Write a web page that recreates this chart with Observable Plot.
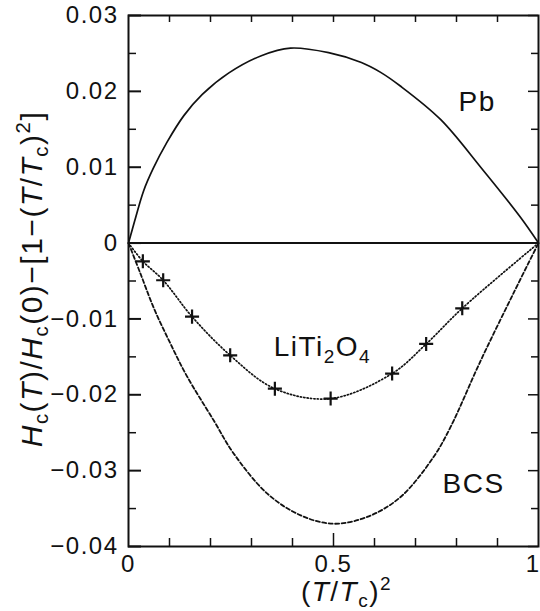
<!DOCTYPE html>
<html><head><meta charset="utf-8">
<script src="https://cdn.jsdelivr.net/npm/d3@7"></script>
<script src="https://cdn.jsdelivr.net/npm/@observablehq/plot@0.6"></script>
<style>html,body{margin:0;padding:0;background:#fff} svg{display:block}</style>
</head><body><div id="chart"></div>
<script>
// Pb (solid)
const pbX = [0, 0.015, 0.037, 0.06, 0.094, 0.135, 0.18, 0.244, 0.324, 0.395, 0.488, 0.568, 0.615, 0.663, 0.761, 0.859, 0.956, 1];
const pbY = [0, 0.0029, 0.0069, 0.0098, 0.0133, 0.0168, 0.0196, 0.0224, 0.0247, 0.0257, 0.0251, 0.0238, 0.0225, 0.0207, 0.0163, 0.0100, 0.0034, 0];
// BCS (dashed)
const bcsX = [0, 0.029, 0.062, 0.1, 0.142, 0.208, 0.256, 0.338, 0.42, 0.5, 0.582, 0.663, 0.744, 0.785, 0.859, 0.94, 1];
const bcsY = [0, -0.0040, -0.0086, -0.0130, -0.0175, -0.0234, -0.0277, -0.0330, -0.0359, -0.0370, -0.0361, -0.0335, -0.0282, -0.0243, -0.0155, -0.0065, 0];
// LiTi2O4 measured points (+) and dotted guide
const liX = [0.035, 0.0846, 0.155, 0.248, 0.357, 0.493, 0.643, 0.726, 0.814];
const liY = [-0.0024, -0.0049, -0.0097, -0.0148, -0.0192, -0.0205, -0.0172, -0.0133, -0.0086];
const liLineX = [0, ...liX, 1];
const liLineY = [0, ...liY, 0];
// ticks
const yMajor = [-0.04, -0.03, -0.02, -0.01, 0, 0.01, 0.02, 0.03];
const yMinor = [-0.035, -0.025, -0.015, -0.005, 0.005, 0.015, 0.025];
const xMajor = [0, 0.5];
const xEnd = [1];
const xMinor = [0.1, 0.2, 0.3, 0.4, 0.6, 0.7, 0.8, 0.9];
// curve labels
const labelNames = ["Pb", "LiTi2O4", "BCS"];
const labelX = [0.805, 0.354, 0.766];
const labelY = [0.0174, -0.0149, -0.0330];
const xTitle = "(T/Tc)2";
const yTitle = "Hc(T)/Hc(0)−[1−(T/Tc)2]";

const W = 540, H = 611, mL = 128, mR = 2, mT = 15, mB = 65;
const pw = W - mL - mR, ph = H - mT - mB;
const pb = pbX.map((x, i) => ({x, y: pbY[i]}));
const bcs = bcsX.map((x, i) => ({x, y: bcsY[i]}));
const li = liX.map((x, i) => ({x, y: liY[i]}));
const liLine = liLineX.map((x, i) => ({x, y: liLineY[i]}));
const labels = labelNames.map((t, i) => ({t, x: labelX[i], y: labelY[i]}));
const fmt = d => d === 0 ? "0" : d3.format(".2f")(d);
const fmtX = d => d === 0 ? "0" : d === 1 ? "1" : d3.format(".1f")(d);
const K = "#111";

const svg = Plot.plot({
  width: W, height: H,
  marginLeft: mL, marginRight: mR, marginTop: mT, marginBottom: mB,
  style: {fontFamily: "'Liberation Sans', Arial, sans-serif", letterSpacing: "1.5px", color: K, background: "#fff"},
  x: {domain: [0, 1]},
  y: {domain: [-0.04, 0.03]},
  marks: [
    // ticks (inward)
    Plot.tickY(yMajor, {y: d => d, stroke: K, strokeWidth: 2, insetRight: pw - 13}),
    Plot.tickY(yMinor, {y: d => d, stroke: K, strokeWidth: 1.5, insetRight: pw - 8}),
    Plot.tickY(yMajor, {y: d => d, stroke: K, strokeWidth: 1.5, insetLeft: pw - 10}),
    Plot.tickY(yMinor, {y: d => d, stroke: K, strokeWidth: 1.5, insetLeft: pw - 7}),
    Plot.tickX(xMinor, {x: d => d, stroke: K, strokeWidth: 1.5, insetTop: ph - 8}),
    Plot.tickX([0.5], {x: d => d, stroke: K, strokeWidth: 1.5, insetTop: ph - 13}),
    Plot.tickX([...xMinor, 0.5], {x: d => d, stroke: K, strokeWidth: 1.5, insetBottom: ph - 7}),
    Plot.axisY({ticks: yMajor, tickSize: 0, tickPadding: 10, tickFormat: fmt, fontSize: 24, label: null}),
    Plot.axisX({ticks: xMajor, tickSize: 0, tickPadding: 8, tickFormat: fmtX, fontSize: 24, label: null}),
    Plot.axisX({ticks: xEnd, tickSize: 0, tickPadding: 8, tickFormat: fmtX, fontSize: 24, label: null, textAnchor: "end", dx: 2}),
    Plot.ruleY([0], {stroke: K, strokeWidth: 2}),
    Plot.line(pb, {x: "x", y: "y", curve: "catmull-rom", stroke: K, strokeWidth: 1.7}),
    Plot.line(bcs, {x: "x", y: "y", curve: "catmull-rom", stroke: K, strokeWidth: 1.8, strokeDasharray: "4,2.5"}),
    Plot.line(liLine, {x: "x", y: "y", curve: "catmull-rom", stroke: K, strokeWidth: 1.7, strokeDasharray: "1.2,2.2"}),
    Plot.dot(li, {x: "x", y: "y", symbol: "plus", r: 4.6, stroke: K, strokeWidth: 2.2}),
    Plot.text(labels, {x: "x", y: "y", text: "t", textAnchor: "start", lineAnchor: "bottom", fontSize: 28, fill: K}),
    Plot.text([yTitle], {text: d => d, frameAnchor: "left", rotate: -90, textAnchor: "middle", lineAnchor: "bottom", dx: -87, dy: -2, fontSize: 30, fill: K}),
    Plot.text([xTitle], {text: d => d, frameAnchor: "bottom", textAnchor: "middle", lineAnchor: "bottom", dx: 13, dy: 54, fontSize: 28, fill: K}),
    Plot.frame({stroke: K, strokeWidth: 2})
  ]
});

function richify(key, parts, sub, sup) {
  d3.select(svg).selectAll("text").filter(function () { return this.textContent === key; }).each(function () {
    const t = d3.select(this);
    t.text(null);
    let cur = 0;
    for (const p of parts) {
      const ts = t.append("tspan").text(p.t);
      const target = p.sub ? sub : p.sup ? -sup : 0;
      if (target !== cur) { ts.attr("dy", target - cur); cur = target; }
      if (p.sub || p.sup) ts.style("font-size", "68%");
      if (p.i) ts.style("font-style", "italic");
    }
  });
}
richify(yTitle, [
  {t: "H", i: 1}, {t: "c", sub: 1}, {t: "("}, {t: "T", i: 1}, {t: ")/"}, {t: "H", i: 1}, {t: "c", sub: 1},
  {t: "(0)−[1−("}, {t: "T", i: 1}, {t: "/"}, {t: "T", i: 1}, {t: "c", sub: 1}, {t: ")"}, {t: "2", sup: 1}, {t: "]"}
], 6, 12);
richify(xTitle, [
  {t: "("}, {t: "T", i: 1}, {t: "/"}, {t: "T", i: 1}, {t: "c", sub: 1}, {t: ")"}, {t: "2", sup: 1}
], 6, 11);
richify("LiTi2O4", [
  {t: "LiTi"}, {t: "2", sub: 1}, {t: "O"}, {t: "4", sub: 1}
], 7, 0);

document.getElementById("chart").appendChild(svg);
</script>
</body></html>
